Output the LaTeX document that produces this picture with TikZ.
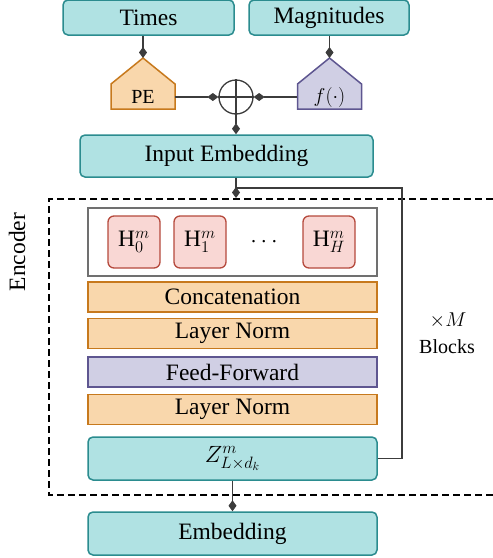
\RequirePackage{fix-cm}
\documentclass[tikz,border=0pt]{standalone}
\usepackage{fontspec}
\setmainfont{Liberation Serif}
\usetikzlibrary{arrows.meta,calc}
\definecolor{tealfill}{HTML}{B0E2E3}
\definecolor{tealline}{HTML}{2B8C8F}
\definecolor{orangefill}{HTML}{F9D7AC}
\definecolor{orangeline}{HTML}{C7791D}
\definecolor{purplefill}{HTML}{D0CFE4}
\definecolor{purpleline}{HTML}{5E5690}
\definecolor{redfill}{HTML}{F9D7D4}
\definecolor{redline}{HTML}{B5493C}
\definecolor{headgray}{HTML}{707070}
\definecolor{linegray}{HTML}{3C3C3C}
\newcommand{\bigtext}{\fontsize{23.5}{28}\selectfont}
\newcommand{\smalltext}{\fontsize{20}{24}\selectfont}
\tikzset{
  box/.style={draw=tealline,fill=tealfill,rounded corners=5pt,line width=1.5pt,inner sep=0pt,font=\bigtext},
  layer/.style={draw=orangeline,fill=orangefill,line width=1.5pt,minimum width=289pt,minimum height=30pt,inner sep=0pt,font=\bigtext},
  ffn/.style={layer,draw=purpleline,fill=purplefill},
  head/.style={draw=redline,fill=redfill,rounded corners=6pt,line width=1.3pt,minimum size=52pt,inner sep=0pt,font=\bigtext},
  conn/.style={draw=linegray,line width=1.3pt,-{Diamond[length=11pt,width=8pt]}},
  wire/.style={draw=linegray,line width=1.3pt},
}
\begin{document}
\begin{tikzpicture}[x=1pt,y=-1pt]
\useasboundingbox (0,0) rectangle (493,558);
% inputs
\node[box,minimum width=171pt,minimum height=35pt] (times) at (148.5,17.5) {Times};
\node[box,minimum width=160pt,minimum height=35pt] (mags) at (329,17.5) {Magnitudes};
\coordinate (pe c) at (143,97);
\coordinate (f c) at (329.5,97);
\draw[draw=orangeline,fill=orangefill,line width=1.5pt] ($(pe c)+(-32,12)$) -- ($(pe c)+(-32,-13)$) -- ($(pe c)+(0,-39)$) coordinate (pe top) -- ($(pe c)+(32,-13)$) -- ($(pe c)+(32,12)$) -- cycle;
\draw[draw=purpleline,fill=purplefill,line width=1.5pt] ($(f c)+(-32,12)$) -- ($(f c)+(-32,-13)$) -- ($(f c)+(0,-39)$) coordinate (f top) -- ($(f c)+(32,-13)$) -- ($(f c)+(32,12)$) -- cycle;
\node[font=\smalltext,minimum width=64pt,inner sep=0pt] (pe) at (pe c) {PE};
\node[font=\smalltext,minimum width=64pt,inner sep=0pt] (f) at (f c) {$f(\cdot)$};
\node[circle,draw=linegray,line width=1.3pt,minimum size=34pt,inner sep=0pt] (sum) at (236,97) {};
\draw[wire] (sum.north) -- (sum.south) (sum.west) -- (sum.east);
\draw[conn] (times.south -| pe top) -- (pe top);
\draw[conn] (mags.south -| f top) -- (f top);
\draw[conn] (pe.east) -- (sum.west);
\draw[conn] (f.west) -- (sum.east);
\node[box,minimum width=293pt,minimum height=42pt] (inemb) at (226.5,156) {Input Embedding};
\draw[conn] (sum.south) -- (sum.south |- inemb.north);
% encoder
\draw[line width=1.5pt,dash pattern=on 7pt off 4pt] (493,199) -| (49,495) -- (493,495);
\node[rotate=90,font=\bigtext] (enc) at (17,252) {Encoder};
\node[draw=headgray,line width=1.5pt,minimum width=289pt,minimum height=68pt] (heads) at (232.5,242) {};
\node[head] (h0) at (134,242) {$\mathrm{H}_0^m$};
\node[head] (h1) at (200,242) {$\mathrm{H}_1^m$};
\node[font=\bigtext] (dots) at (264,242) {$\cdots$};
\node[head] (hH) at (329,242) {$\mathrm{H}_H^m$};
\node[layer] (concat) at (232.5,297) {Concatenation};
\node[layer] (norm1) at (232.5,333.5) {Layer Norm};
\node[ffn] (ff) at (232.5,372) {Feed-Forward};
\node[layer] (norm2) at (232.5,409.5) {Layer Norm};
\node[box,minimum width=289pt,minimum height=43pt] (z) at (232.5,458.5) {$Z^m_{L\times d_k}$};
\node[box,minimum width=289pt,minimum height=43pt] (emb) at (232.5,533.5) {Embedding};
\node[font=\smalltext] (times m) at (448,320) {$\times M$};
\node[font=\smalltext] (blocks) at (447,347) {Blocks};
% connections
\coordinate (enc in) at (236,198);
\coordinate (loop) at (402,188);
\draw[conn] (sum.south |- inemb.south) -- (enc in);
\draw[wire] (z.east) -| (loop) -- (loop -| enc in);
\draw[conn] (z.south) -- (emb.north);
\end{tikzpicture}
\end{document}
